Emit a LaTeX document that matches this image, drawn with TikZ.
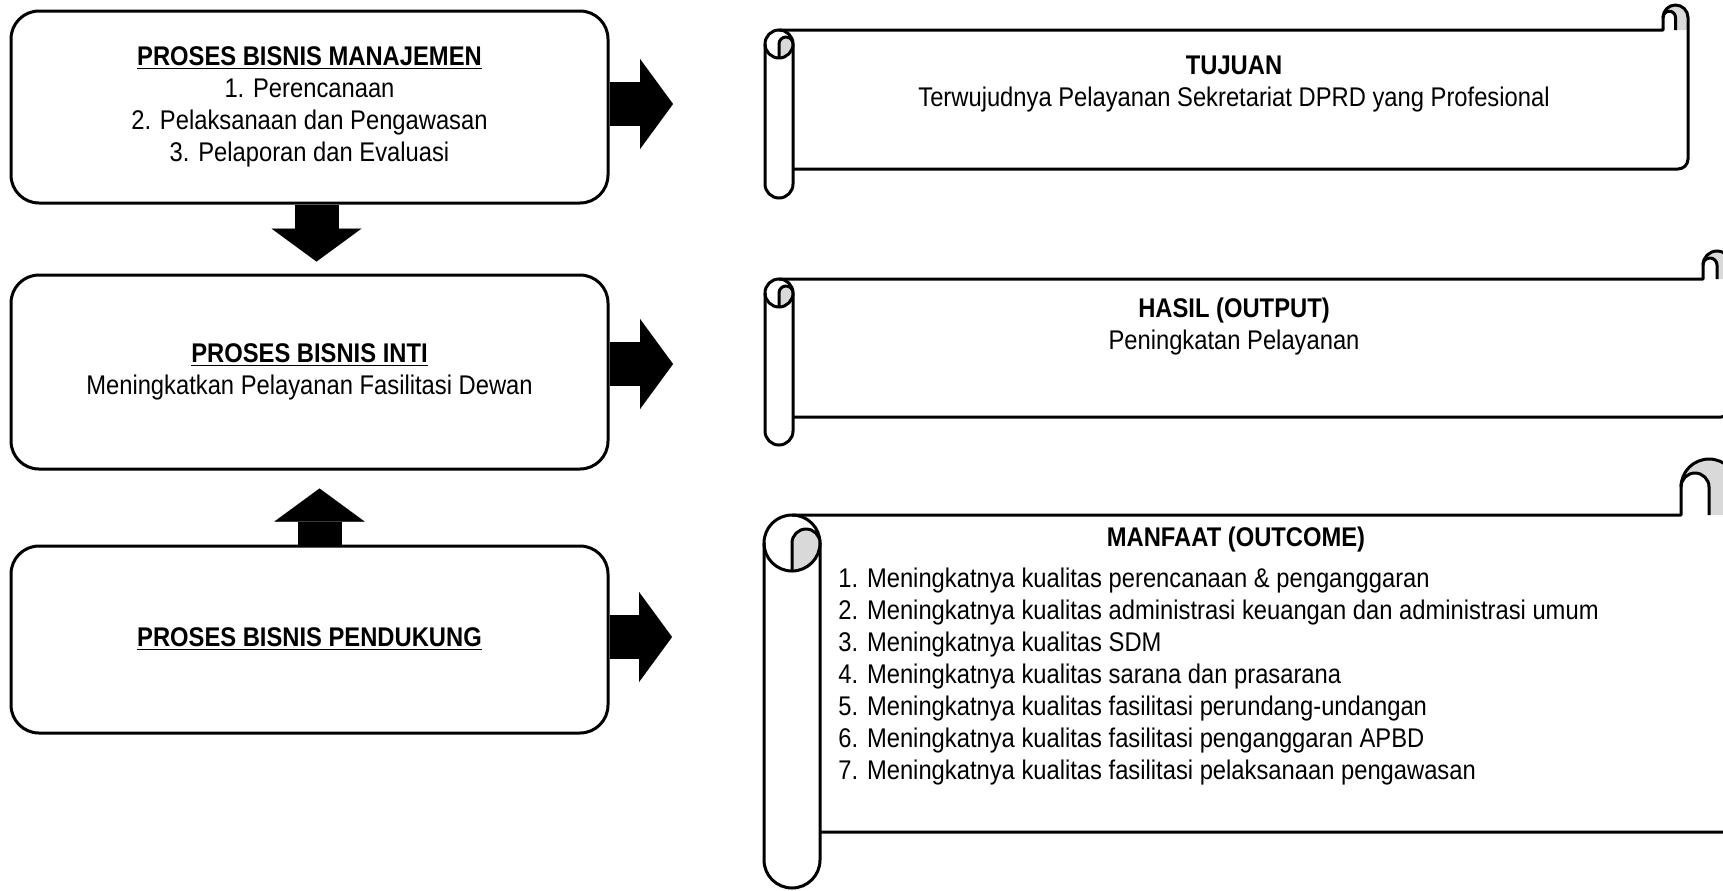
\documentclass[tikz,border=0pt]{standalone}
\usepackage{fontspec}
\setmainfont{Liberation Sans}[FakeStretch=0.88]
\usetikzlibrary{arrows.meta}
\definecolor{curlgray}{HTML}{D9D9D9}

% scroll: left x, top y, right x, bottom y, roll radius, curl radius, roll end y
\newcommand{\scrollbox}[7]{%
  \draw[scrollline,fill=white] (#1,{-#2-#5}) arc[start angle=180,end angle=0,radius=#5] -- ({#1+2*#5},{-#7+#5}) arc[start angle=0,end angle=-180,radius=#5] -- cycle;
  \fill[curlgray] ({#1+#5},{-#2-2*#5}) -- ({#1+#5},{-#2-#5}) arc[start angle=180,end angle=0,radius={#5/2}] arc[start angle=0,end angle=-90,radius=#5] -- cycle;
  \fill[curlgray] ({#3-2*#6},{-#2+#6}) arc[start angle=180,end angle=0,radius=#6] -- (#3,-#2) -- ({#3-#6},-#2) -- ({#3-#6},{-#2+#6}) arc[start angle=0,end angle=180,radius={#6/2}] -- cycle;
  \draw[scrollline] (#1,{-#2-#5}) arc[start angle=180,end angle=360,radius=#5];
  \draw[scrollline] ({#1+#5},{-#2-2*#5}) -- ({#1+#5},{-#2-#5}) arc[start angle=180,end angle=0,radius={#5/2}];
  \draw[scrollline] ({#1+#5},-#2) -- ({#3-2*#6},-#2) -- ({#3-2*#6},{-#2+#6}) arc[start angle=180,end angle=0,radius=#6] -- (#3,{-#4+10}) arc[start angle=0,end angle=-90,radius=10] -- ({#1+2*#5},-#4);
  \draw[scrollline] ({#3-#6},-#2) -- ({#3-#6},{-#2+#6}) arc[start angle=0,end angle=180,radius={#6/2}];
}

\begin{document}
\begin{tikzpicture}[x=0.5pt,y=0.5pt,
      txt/.style={font=\fontsize{13.5}{16}\selectfont},
      box/.style={txt,draw,line width=1.5pt,rounded corners=14pt,minimum width=298.5pt,align=center},
      scrolltext/.style={txt,inner sep=0pt,align=center},
      scrollline/.style={line width=1.5pt,line join=round},
      blockarrow/.style={line width=22pt,-{Triangle[length=16.5pt,width=45pt,line width=0.01pt]}}]
    \useasboundingbox (0,0) rectangle (1723,-890);
    % business processes
    \node[box,minimum height=96pt] (manaj) at (309.5,-107) {\underline{\textbf{PROSES BISNIS MANAJEMEN}}\\ 1. Perencanaan\\ 2. Pelaksanaan dan Pengawasan\\ 3. Pelaporan dan Evaluasi};
    \node[box,minimum height=97pt] (inti) at (309.5,-372) {\underline{\textbf{PROSES BISNIS INTI}}\\ Meningkatkan Pelayanan Fasilitasi Dewan};
    \node[box,minimum height=93.5pt] (pendukung) at (309.5,-639.5) {\underline{\textbf{PROSES BISNIS PENDUKUNG}}};
    % scrolls
    \scrollbox{765}{30}{1688}{169}{14}{12.5}{198}
    \scrollbox{765}{279}{1731}{417}{14}{14}{445}
    \scrollbox{764}{515}{1737}{832}{28}{28}{888}
    \coordinate (tujuanL) at (765,-100);
    \coordinate (hasilL) at (765,-348);
    \coordinate (manfaatL) at (764,-670);
    \node[scrolltext] (tujuan) at (1234,-84) {\textbf{TUJUAN}\\ Terwujudnya Pelayanan Sekretariat DPRD yang Profesional};
    \node[scrolltext] (hasil) at (1234,-327) {\textbf{HASIL (OUTPUT)}\\ Peningkatan Pelayanan};
    \node[scrolltext] (manfaat) at (1236,-540) {\textbf{MANFAAT (OUTCOME)}};
    \node[scrolltext,align=left,anchor=north west] (manfaatlist) at (838,-568) {1. Meningkatnya kualitas perencanaan \& penganggaran\\
      2. Meningkatnya kualitas administrasi keuangan dan administrasi umum\\
      3. Meningkatnya kualitas SDM\\
      4. Meningkatnya kualitas sarana dan prasarana\\
      5. Meningkatnya kualitas fasilitasi perundang-undangan\\
      6. Meningkatnya kualitas fasilitasi penganggaran APBD\\
      7. Meningkatnya kualitas fasilitasi pelaksanaan pengawasan};
    % block arrows
    \draw[blockarrow,shorten >=6pt] ([xshift=3.5pt]manaj.south) -- ([xshift=3.5pt]inti.north);
    \draw[blockarrow,shorten >=9pt] ([xshift=5pt]pendukung.north) -- ([xshift=5pt]inti.south);
    \draw[blockarrow,shorten >=46pt] ([yshift=1.5pt]manaj.east) -- ([yshift=1.5pt]manaj.east -| tujuanL);
    \draw[blockarrow,shorten >=46pt] ([yshift=4pt]inti.east) -- ([yshift=4pt]inti.east -| hasilL);
    \draw[blockarrow,shorten >=46pt] ([yshift=1.25pt]pendukung.east) -- ([yshift=1.25pt]pendukung.east -| manfaatL);
  \end{tikzpicture}
\end{document}
